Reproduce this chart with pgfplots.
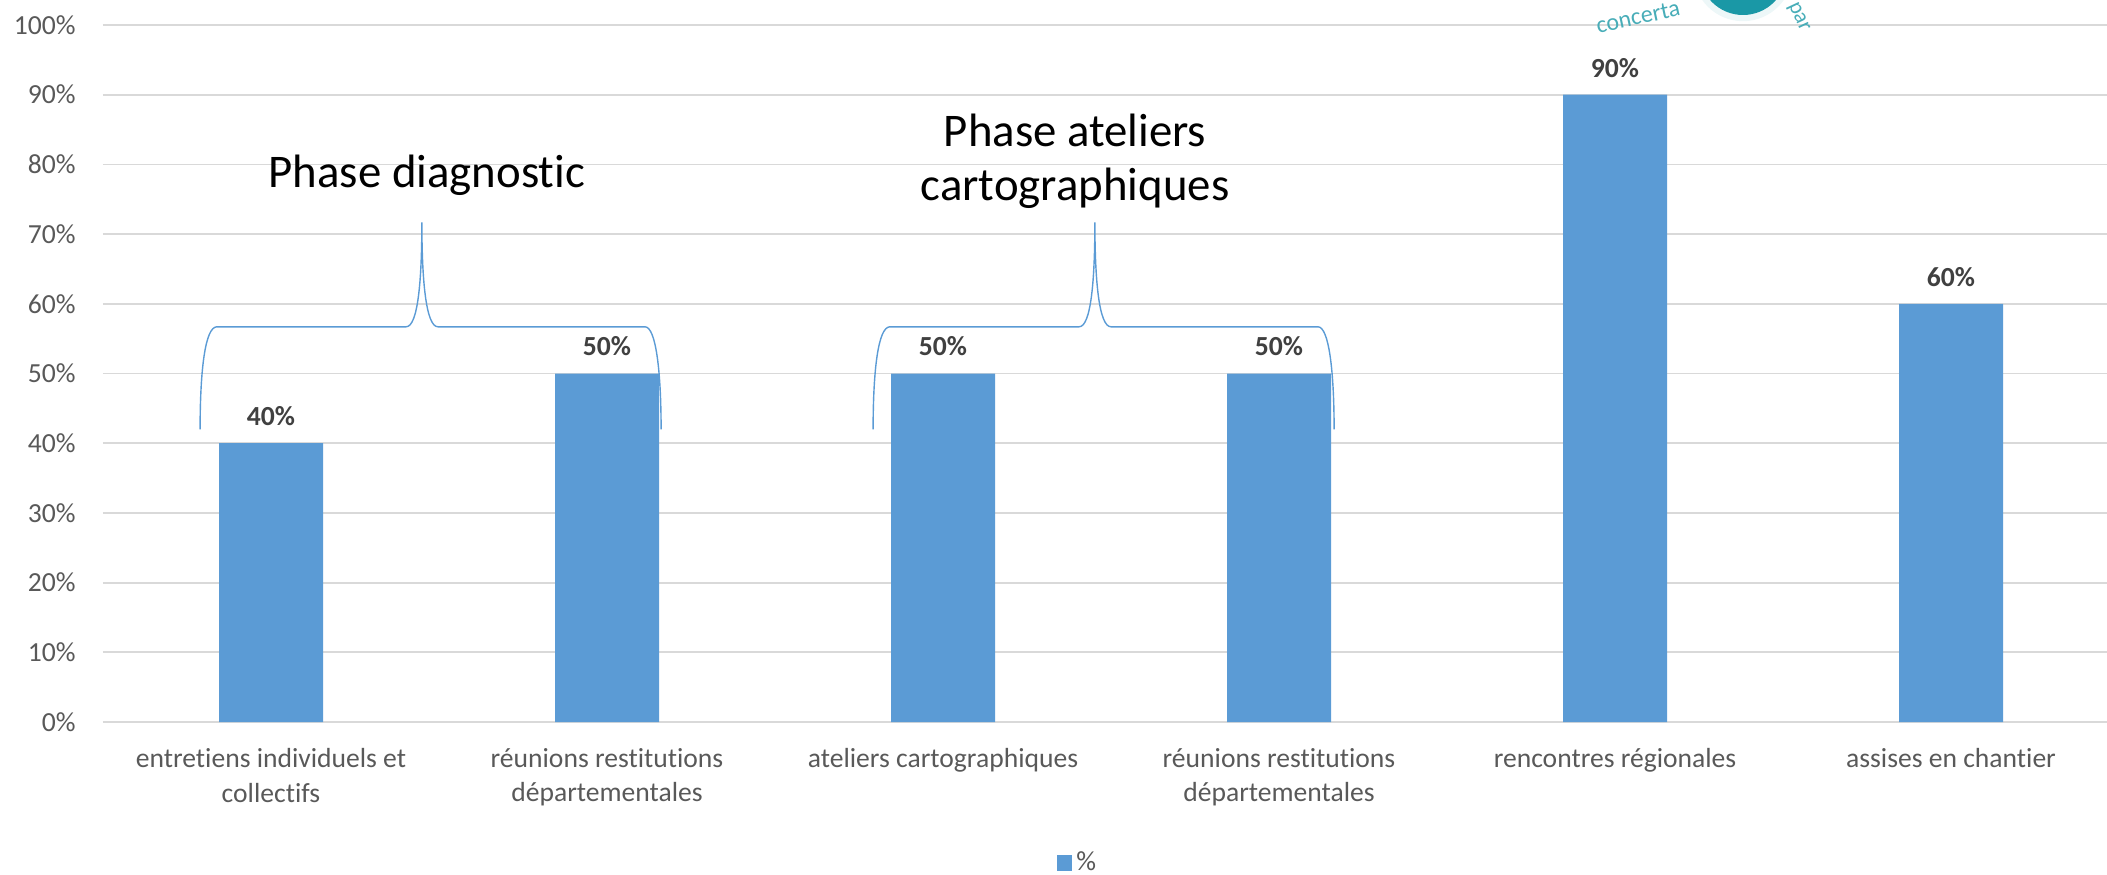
\documentclass[border=0pt]{standalone}
\usepackage{fontspec}
\setmainfont{Carlito}[Ligatures=NoCommon]
\usepackage{pgfplots}
\pgfplotsset{compat=1.18}
\definecolor{barblue}{HTML}{5B9BD5}
\definecolor{gridgray}{HTML}{D9D9D9}
\definecolor{ticktext}{HTML}{595959}
\definecolor{labeltext}{HTML}{404040}
\definecolor{logoteal}{HTML}{1A98A6}
\newcommand{\phasebrace}[1]{%
  \draw[barblue, line width=0.7pt]
    ({-0.211+#1},42.0) .. controls ({-0.211+#1},50.5) and ({-0.196+#1},56.7) .. ({-0.161+#1},56.7)
    -- ({0.402+#1},56.7) .. controls ({0.4375+#1},56.7) and ({0.449+#1},63.4) .. ({0.449+#1},71.7)
    .. controls ({0.449+#1},63.4) and ({0.461+#1},56.7) .. ({0.497+#1},56.7)
    -- ({1.113+#1},56.7) .. controls ({1.145+#1},56.7) and ({1.161+#1},50.5) .. ({1.161+#1},42.0);}
\begin{document}
\begin{tikzpicture}
\begin{axis}[
  at={(51.5pt,76pt)}, anchor=south west,
  scale only axis, width=1008pt, height=348.5pt,
  xmin=-0.5, xmax=5.5, ymin=0, ymax=100,
  ybar, bar width=52pt,
  xtick={0,...,5},
  xticklabels={{entretiens individuels et\\collectifs},{réunions restitutions\\départementales},{ateliers cartographiques},{réunions restitutions\\départementales},{rencontres régionales},{assises en chantier}},
  ytick={0,10,...,100},
  yticklabel={\pgfmathprintnumber{\tick}\%},
  /pgf/number format/assume math mode=true,
  ymajorgrids, grid style={gridgray, line width=0.9pt},
  axis line style={draw=none},
  major tick length=0pt,
  yticklabel style={font=\fontsize{13.8}{16.5}\selectfont, text=ticktext, anchor=east, inner sep=0pt, xshift=-13.5pt},
  xticklabel style={font=\fontsize{13.8}{17.3}\selectfont, text=ticktext, align=center, anchor=north, inner sep=0pt, yshift=-13pt},
  nodes near coords={\pgfmathprintnumber{\pgfplotspointmeta}\%},
  nodes near coords style={font=\fontsize{13.8}{16}\selectfont\bfseries, text=labeltext, inner sep=0pt, anchor=south, yshift=8.5pt},
  legend style={at={(0.484,-0.2023)}, anchor=center, draw=none, font=\fontsize{13.8}{16}\selectfont, text=ticktext},
  clip=false,
]
\addplot[fill=barblue, draw=none, legend image code/.code={\fill[barblue] (0pt,-3.8pt) rectangle (7.5pt,3.8pt);}]
  coordinates {(0,40) (1,50) (2,50) (3,50) (4,90) (5,60)};
\addlegendentry{\%}
\phasebrace{0}
\phasebrace{2.003}
\node[font=\fontsize{23.4}{27}\selectfont, align=center] at (axis cs:0.464,78.5) {Phase diagnostic};
\node[font=\fontsize{23.4}{27}\selectfont, align=center] at (axis cs:2.393,80.5) {Phase ateliers\\cartographiques};
\end{axis}
\pgfresetboundingbox
\path[use as bounding box] (0,0) rectangle (1053.5pt,437pt);
\fill[logoteal!8] (871.5pt,451.4pt) circle (25pt);
\fill[logoteal] (871.5pt,451.4pt) circle (21.9pt);
\node[text=logoteal!80, font=\fontsize{12}{14}\selectfont, rotate=12] at (819pt,428.5pt) {concerta};
\node[text=logoteal!80, font=\fontsize{11}{13}\selectfont, rotate=-65] at (899pt,428.5pt) {par};
\end{tikzpicture}
\end{document}
